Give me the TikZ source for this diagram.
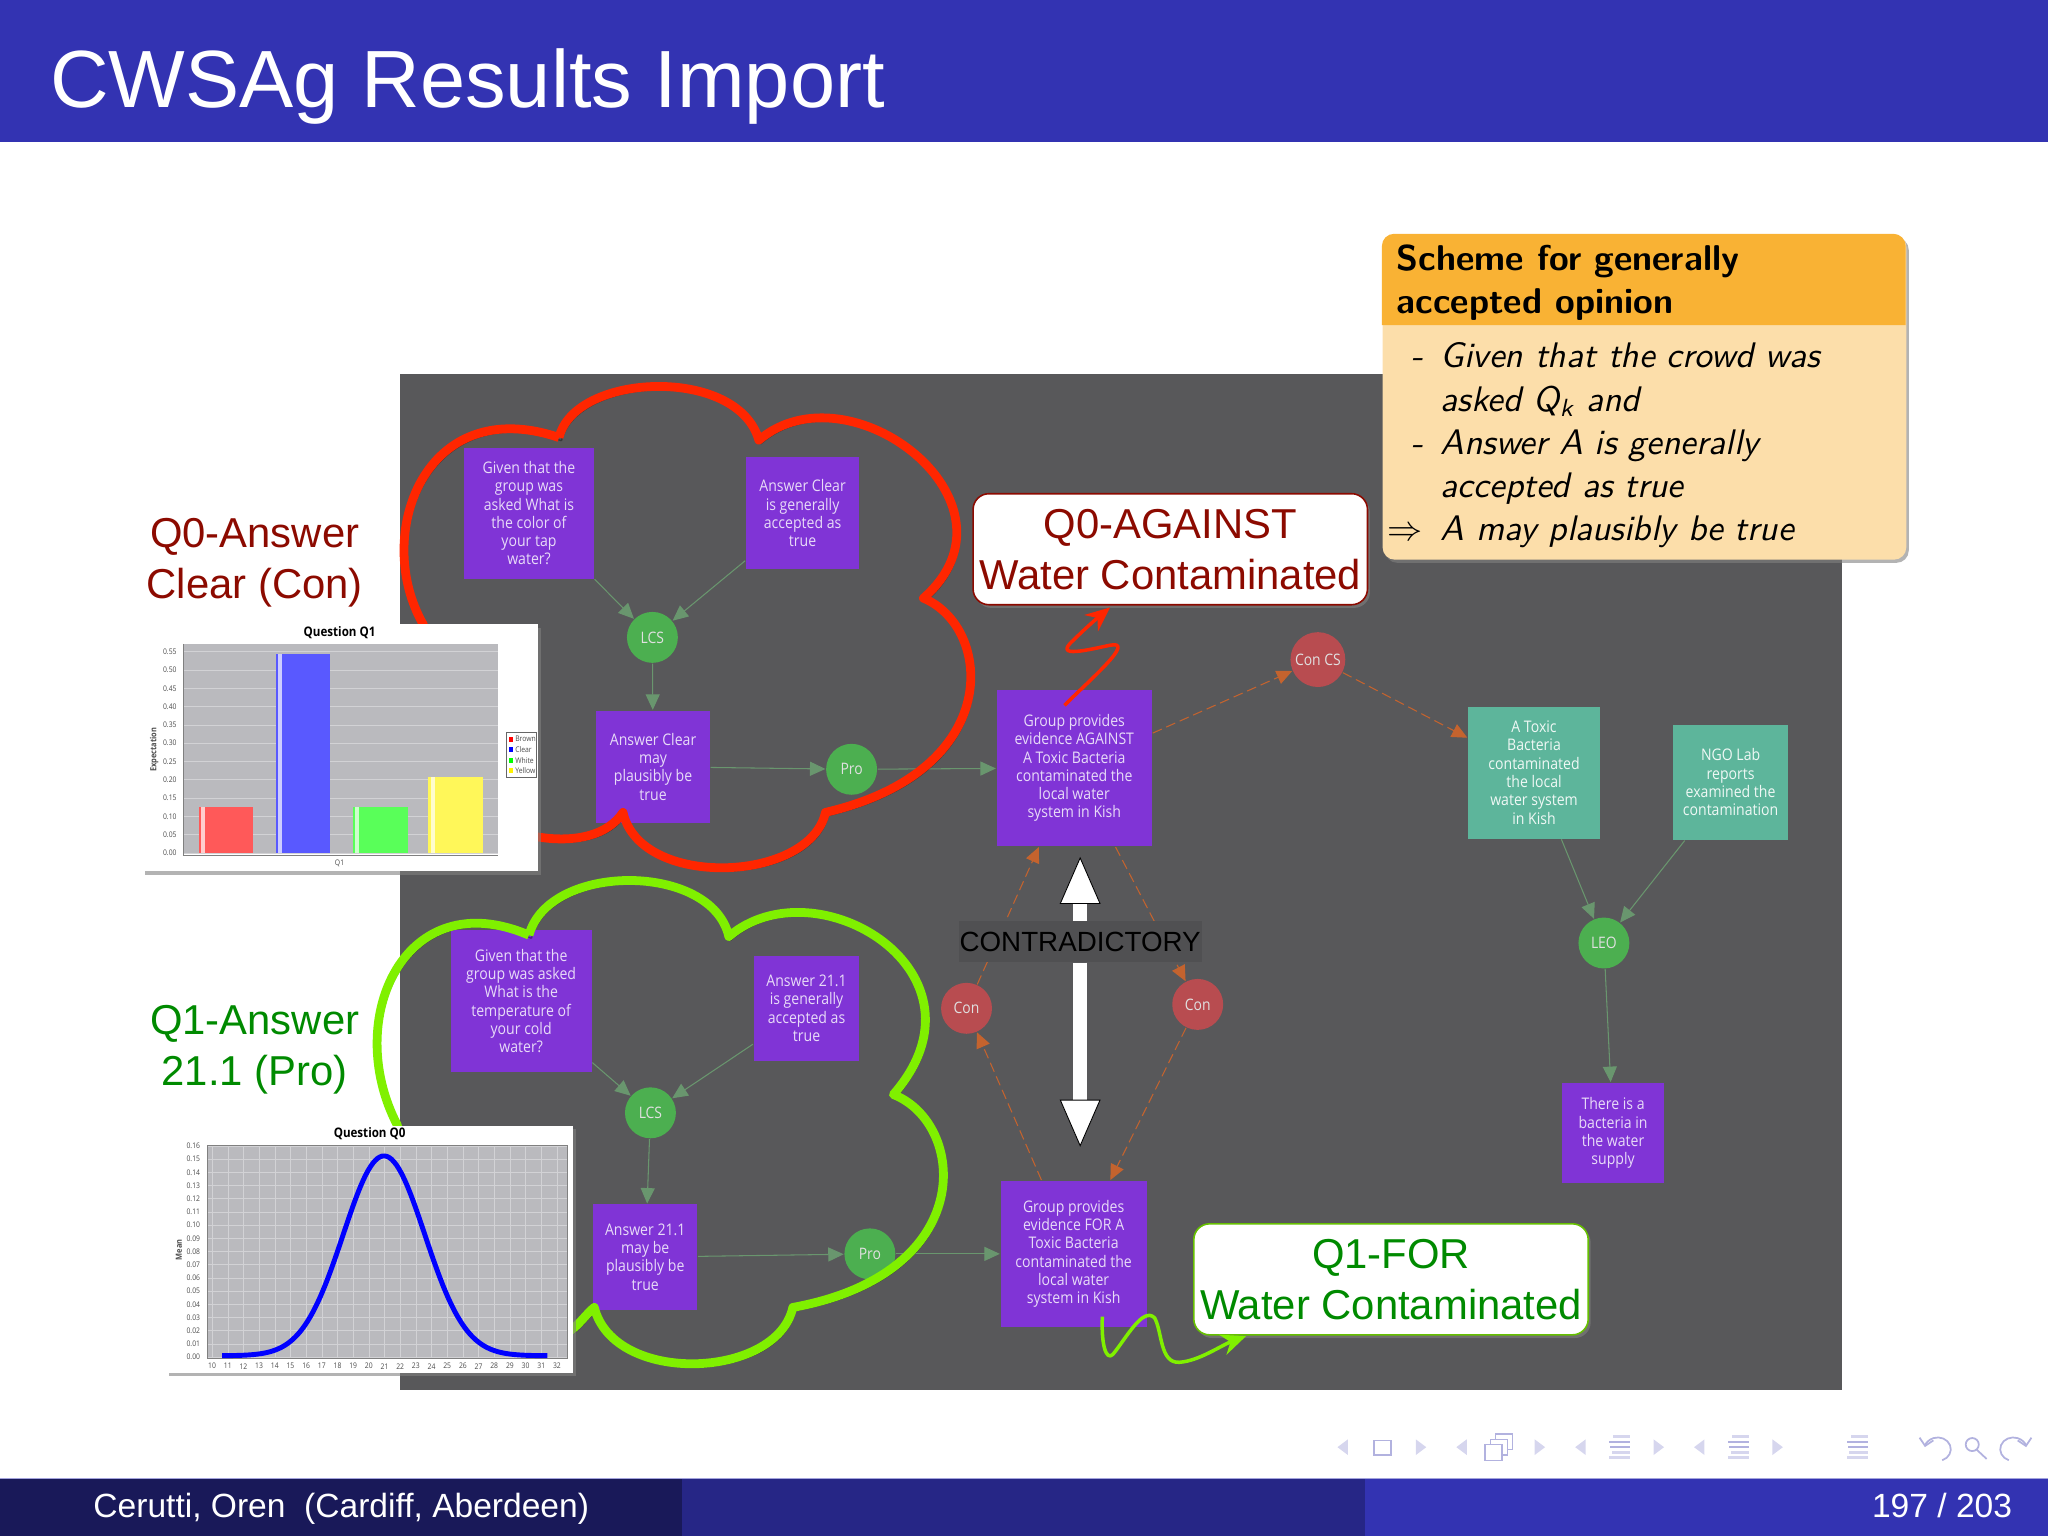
\documentclass[tikz,border=0pt]{standalone}
\usepackage{fontspec}
\setmainfont{Liberation Sans}
\newfontfamily\boxfont[FakeStretch=0.88]{Open Sans}
\usetikzlibrary{arrows.meta, shadows}

\definecolor{barblue}{RGB}{51,51,178}
\definecolor{barmid}{RGB}{38,38,134}
\definecolor{bardark}{RGB}{25,25,89}
\definecolor{slate}{RGB}{88,88,90}
\definecolor{slatedark}{RGB}{80,80,82}
\definecolor{boxpurple}{RGB}{128,52,214}
\definecolor{boxteal}{RGB}{93,181,155}
\definecolor{nodegreen}{RGB}{76,175,80}
\definecolor{nodered}{RGB}{184,76,80}
\definecolor{edgegreen}{RGB}{105,150,110}
\definecolor{edgeorange}{RGB}{196,99,46}
\definecolor{cloudred}{RGB}{255,38,0}
\definecolor{cloudgreen}{RGB}{128,240,0}
\definecolor{againstred}{RGB}{140,10,0}
\definecolor{forgreen}{RGB}{0,138,0}
\definecolor{schemehead}{RGB}{249,178,52}
\definecolor{schemebody}{RGB}{252,222,170}
\definecolor{chartgrey}{RGB}{186,186,190}
\definecolor{navlight}{RGB}{214,214,238}
\definecolor{navdark}{RGB}{178,178,223}

\def\un{0.3716pt}

\tikzset{
    dim/.style 2 args={minimum width=#1*\un, minimum height=#2*\un},
    plainbox/.style={rectangle, inner sep=0pt, align=center, text=white!82!boxpurple,
        font=\boxfont\fontsize{4.55}{5.2}\selectfont},
    purplebox/.style={plainbox, fill=boxpurple},
    tealbox/.style={plainbox, fill=boxteal, text=white!90!boxteal},
    dot/.style={circle, inner sep=0pt, minimum size=39*\un, text=white!88!black,
        font=\boxfont\fontsize{4.5}{5.2}\selectfont},
    greendot/.style={dot, fill=nodegreen},
    reddot/.style={dot, fill=nodered},
    support/.style={draw=edgegreen, line width=.3pt,
        -{Triangle[length=4.4pt, width=4pt, fill=edgegreen]}},
    attack/.style={draw=edgeorange, line width=.3pt, dash pattern=on 2.8pt off 1.4pt,
        -{Triangle[length=4.4pt, width=4pt, fill=edgeorange]}},
    cloudline/.style={line width=2.5pt, line join=round,
        preaction={draw=black, opacity=.35, transform canvas={shift={(.7pt,-.9pt)}}}},
    bigsay/.style={inner sep=0pt, align=center, font=\fontsize{11.9}{14.5}\selectfont},
    callout/.style={bigsay, fill=white, rounded corners=4.5pt, line width=.45pt,
        drop shadow={shadow xshift=.7pt, shadow yshift=-.9pt, opacity=.6}},
    swing/.style={line width=1pt, line join=round},
    chartpaper/.style={fill=white, inner sep=0pt,
        drop shadow={shadow xshift=.8pt, shadow yshift=-1pt, opacity=.6}},
    chartlabel/.style={inner sep=0pt, text=black!70, font=\boxfont\fontsize{2.2}{2.6}\selectfont},
    charttitle/.style={inner sep=0pt, font=\bfseries\boxfont\fontsize{3.75}{4.4}\selectfont},
    wideway/.style={draw=white, line width=4.1pt,
        -{Triangle[length=13.4pt, width=11.6pt, fill=white, color=black, line width=.25pt]}},
    schemetext/.style={inner sep=0pt, anchor=north west, align=left, text=black,
        font=\sffamily\itshape\fontsize{10.1}{12.26}\selectfont},
}

\begin{document}
\begin{tikzpicture}[x=0.01306cm, y=-0.01306cm]
    \useasboundingbox (0,0) rectangle (1568,1176);

    % slide frame
    \fill[barblue] (0,0) rectangle (1568,109);
    \node[inner sep=0pt, anchor=base west, text=white, font=\fontsize{23.1}{27}\selectfont]
        (slidetitle) at (38,82) {CWSAg Results Import};
    \fill[bardark] (0,1132) rectangle (522,1176);
    \fill[barmid] (522,1132) rectangle (1045,1176);
    \fill[barblue] (1045,1132) rectangle (1568,1176);
    \draw[barblue!45!white, line width=.3pt] (0,1132) -- (1568,1132);
    \node[inner sep=0pt, anchor=base west, text=white, font=\fontsize{9.55}{11}\selectfont]
        (footleft) at (71,1162) {Cerutti, Oren\ \ (Cardiff, Aberdeen)};
    \node[inner sep=0pt, anchor=base east, text=white, font=\fontsize{9.55}{11}\selectfont]
        (footright) at (1541,1162) {197 / 203};

    % navigation
    \foreach \x in {1028,1119,1210,1301}
        \fill[navlight] (\x-4,1108) -- (\x+4,1102) -- (\x+4,1114) -- cycle;
    \foreach \x in {1088,1179,1270,1361}
        \fill[navlight] (\x+4,1108) -- (\x-4,1102) -- (\x-4,1114) -- cycle;
    \draw[navdark, line width=.4pt] (1052,1103) rectangle (1065,1114);
    \foreach \d in {8,4,0}
        \draw[navdark, fill=white, line width=.4pt] (1137+\d,1106-\d) rectangle (1150+\d,1118-\d);
    \foreach \x in {1240,1331,1422}
        \foreach \y/\w/\c in {1100/5/navlight,1104/8/navdark,1108/7/navdark,1112/6/navlight,1116/8/navlight}
            \fill[\c] (\x-\w,\y-1) rectangle (\x+8,\y+1);
    \draw[navdark, line width=.5pt, -{Straight Barb[length=2pt]}] (1487,1118)
        arc[start angle=-70, end angle=170, x radius=10, y radius=-9];
    \draw[navdark, line width=.5pt] (1510,1106) circle[radius=5] (1513.5,1110) -- (1521,1117);
    \draw[navdark, line width=.5pt, -{Straight Barb[length=2pt]}] (1538,1118)
        arc[start angle=250, end angle=10, x radius=10, y radius=-9];

    % the argument graph
    \fill[slate] (306,286) rectangle (1410,1064);

    \node[purplebox, dim={100}{100}] (asked0) at (405,393)
        {Given that the\\group was\\asked What is\\the color of\\your tap\\water?};
    \node[purplebox, dim={87}{86}] (known0) at (614.5,393)
        {Answer Clear\\is generally\\accepted as\\true};
    \node[greendot] (lcs0) at (499.5,488) {LCS};
    \node[purplebox, dim={87}{86}] (plaus0) at (500,587)
        {Answer Clear\\may\\plausibly be\\true};
    \node[greendot] (pro0) at (652,589) {Pro};
    \node[purplebox, dim={119}{120}] (against) at (822.5,588)
        {Group provides\\evidence AGAINST\\A Toxic Bacteria\\contaminated the\\local water\\system in Kish};
    \node[reddot, minimum size=42*\un] (concs) at (1009,505) {Con CS};
    \node[tealbox, dim={101}{101}] (toxic) at (1174.5,591.5)
        {A Toxic\\Bacteria\\contaminated\\the local\\water system\\in Kish};
    \node[tealbox, dim={88}{88}] (ngo) at (1325,599)
        {NGO Lab\\reports\\examined the\\contamination};
    \node[greendot] (leo) at (1228,722) {LEO};
    \node[purplebox, dim={78}{77}] (supply) at (1235,867.5)
        {There is a\\bacteria in\\the water\\supply};
    \node[reddot] (conleft) at (740,772) {Con};
    \node[reddot] (conright) at (917,769) {Con};
    \node[purplebox, dim={112}{112}] (forbox) at (822,960)
        {Group provides\\evidence FOR A\\Toxic Bacteria\\contaminated the\\local water\\system in Kish};
    \node[purplebox, dim={108}{109}] (asked1) at (399,766.5)
        {Given that the\\group was asked\\What is the\\temperature of\\your cold\\water?};
    \node[purplebox, dim={81}{80}] (known1) at (617.5,772)
        {Answer 21.1\\is generally\\accepted as\\true};
    \node[greendot] (lcs1) at (498,852) {LCS};
    \node[purplebox, dim={80}{81}] (plaus1) at (494,962.5)
        {Answer 21.1\\may be\\plausibly be\\true};
    \node[greendot] (pro1) at (666,960) {Pro};

    \draw[support] (asked0) -- (lcs0);
    \draw[support] (known0) -- (lcs0);
    \draw[support] (lcs0) -- (plaus0);
    \draw[support] (plaus0) -- (pro0);
    \draw[support] (pro0) -- (against);
    \draw[support] (asked1) -- (lcs1);
    \draw[support] (known1) -- (lcs1);
    \draw[support] (lcs1) -- (plaus1);
    \draw[support] (plaus1) -- (pro1);
    \draw[support] (pro1) -- (forbox);
    \draw[support] (toxic) -- (leo);
    \draw[support] (ngo) -- (leo);
    \draw[support] (leo) -- (supply);
    \draw[attack] (against) -- (concs);
    \draw[attack] (concs) -- (toxic);
    \draw[attack] (forbox) -- (conleft);
    \draw[attack] (conleft) -- (against);
    \draw[attack] (against) -- (conright);
    \draw[attack] (conright) -- (forbox);

    \node[dim={186}{31}, inner sep=0pt, fill=slatedark, text=black, font=\fontsize{7.9}{9.5}\selectfont]
        (contra) at (827,721) {CONTRADICTORY};
    \coordinate (uptip) at (827,656);
    \coordinate (downtip) at (827,878);
    \draw[wideway] (contra.north) -- (uptip);
    \draw[wideway] (contra.south) -- (downtip);

    % clouds
    \draw[cloudred, cloudline] (428,335)
        .. controls (440,285) and (565,280) .. (581,337)
        .. controls (650,278) and (790,385) .. (707,458)
        .. controls (760,480) and (770,590) .. (632,622)
        .. controls (620,676) and (490,681) .. (477,622)
        .. controls (465,640) and (440,645) .. (413,641)
        .. controls (380,640) and (330,510) .. (324,478)
        .. controls (285,410) and (325,300) .. (428,335);
    \draw[cloudgreen, cloudline] (405,716)
        .. controls (420,660) and (545,660) .. (558,717)
        .. controls (625,660) and (765,745) .. (684,838)
        .. controls (740,860) and (750,975) .. (607,1001)
        .. controls (595,1056) and (470,1061) .. (455,1001)
        .. controls (450,1005) and (445,1012) .. (439,1017)
        .. controls (400,1050) and (320,930) .. (304,861)
        .. controls (262,780) and (310,675) .. (405,716);

    % first chart
    \node[chartpaper, dim={303}{189}] (chartzero) at (260.5,572.5) {};
    \fill[chartgrey] (140,493) rectangle (381,654);
    \foreach \v [count=\i from 0] in {0.00,0.05,0.10,0.15,0.20,0.25,0.30,0.35,0.40,0.45,0.50,0.55} {
        \draw[white!35!chartgrey, line width=.15pt] (140,{653-14*\i}) -- (381,{653-14*\i});
        \node[chartlabel] at (130,{653-14*\i}) {\v};
    }
    \foreach \x/\top/\col in {152/618/red!65!white, 211/501/blue!65!white, 270/618/green!65!white, 328/595/yellow!65!white} {
        \fill[\col] (\x,\top) rectangle (\x+42,653);
        \fill[white, opacity=.7] (\x+2,\top) rectangle (\x+5,653);
    }
    \draw[black!50, line width=.2pt] (140,655) -- (381,655) (140,493) -- (140,655);
    \node[charttitle] (chartzerotitle) at (260,484) {Question Q1};
    \node[chartlabel, rotate=90, font=\bfseries\boxfont\fontsize{2.4}{3}\selectfont] at (118,574) {Expectation};
    \node[chartlabel] at (260,661) {Q1};
    \draw[black!60, fill=white, line width=.2pt] (388,561) rectangle (411,595);
    \foreach \y/\name/\col in {566/Brown/red, 574/Clear/blue, 582/White/green, 590/Yellow/yellow} {
        \fill[\col] (390,\y-2) rectangle (393,\y+2);
        \node[chartlabel, anchor=west] at (394,\y) {\name};
    }

    % second chart
    \node[chartpaper, dim={312}{189}] (chartone) at (283,956.5) {};
    \fill[chartgrey] (159,877) rectangle (434,1040);
    \foreach \v [count=\i from 0] in {0.00,0.01,0.02,0.03,0.04,0.05,0.06,0.07,0.08,0.09,0.10,0.11,0.12,0.13,0.14,0.15,0.16} {
        \draw[white!35!chartgrey, line width=.15pt] (159,{1039-10.1*\i}) -- (434,{1039-10.1*\i});
        \node[chartlabel] at (148,{1039-10.1*\i}) {\v};
    }
    \foreach \n [count=\i from 0] in {10,...,32} {
        \draw[white!35!chartgrey, line width=.15pt] ({162.4+12*\i},877) -- ({162.4+12*\i},1040);
        \node[chartlabel] at ({162.4+12*\i},1046) {\n};
    }
    \draw[black!50, line width=.2pt] (159,877) rectangle (434,1040);
    \draw[blue, line width=1.4pt, smooth, samples=70, domain=170:419]
        plot (\x,{1038-153*exp(-(\x-294)*(\x-294)/1950)});
    \node[charttitle] (chartonetitle) at (283,868) {Question Q0};
    \node[chartlabel, rotate=90, font=\bfseries\boxfont\fontsize{2.4}{3}\selectfont] at (137,957) {Mean};

    % side labels
    \node[bigsay, text=againstred] (answerzero) at (195,431) {Q0-Answer\\Clear (Con)};
    \node[bigsay, text=forgreen] (answerone) at (195,804) {Q1-Answer\\21.1 (Pro)};

    % callouts
    \node[callout, draw=againstred, text=againstred, dim={302}{85}] (qzero) at (896,420.5)
        {Q0-AGAINST\\Water Contaminated};
    \node[callout, draw=cloudgreen!80!black, text=forgreen, dim={302}{85}] (qone) at (1065,979.5)
        {Q1-FOR\\Water Contaminated};
    \coordinate (qzeroend) at (850,465);
    \coordinate (qoneend) at (954,1023);
    \coordinate (againstout) at (815,540);
    \coordinate (forout) at (844,1008);
    \draw[swing, cloudred, -{Stealth[length=7pt, width=6pt]}] (againstout)
        .. controls (835,520) and (870,490) .. (850,494)
        .. controls (835,497) and (805,505) .. (822,490)
        .. controls (830,482) and (838,475) .. (qzeroend);
    \draw[swing, cloudgreen, -{Stealth[length=7pt, width=6pt]}] (forout)
        .. controls (843,1030) and (847,1042) .. (852,1037)
        .. controls (862,1025) and (875,1000) .. (884,1009)
        .. controls (890,1020) and (888,1044) .. (903,1043)
        .. controls (918,1042) and (935,1030) .. (qoneend);

    % scheme block
    \node[rectangle, dim={401}{249}, anchor=north west, fill=schemebody, rounded corners=3.5pt,
        drop shadow={shadow xshift=.7pt, shadow yshift=-.9pt, opacity=.6}] (scheme) at (1058,179) {};
    \fill[schemehead] (1058,249) [rounded corners=3.5pt] -- (1058,179) -- (1459,179) -- (1459,215)
        [sharp corners] -- (1459,249) -- cycle;
    \node[inner sep=0pt, anchor=north west, align=left, font=\sffamily\bfseries\fontsize{10.2}{12.26}\selectfont]
        (schemetitle) at (1069,187) {Scheme for generally\\accepted opinion};
    \node[schemetext] (schemebullets) at (1062,262)
        {\vphantom{Gh}\hspace*{6.7pt}-\\\mbox{}\\\hspace*{6.7pt}-\\\mbox{}\\$\Rightarrow$};
    \node[schemetext] (schemelines) at (1102.5,262)
        {Given that the crowd was\\asked Q\textsubscript{k} and\\Answer A is generally\\accepted as true\\A may plausibly be true};
\end{tikzpicture}
\end{document}
